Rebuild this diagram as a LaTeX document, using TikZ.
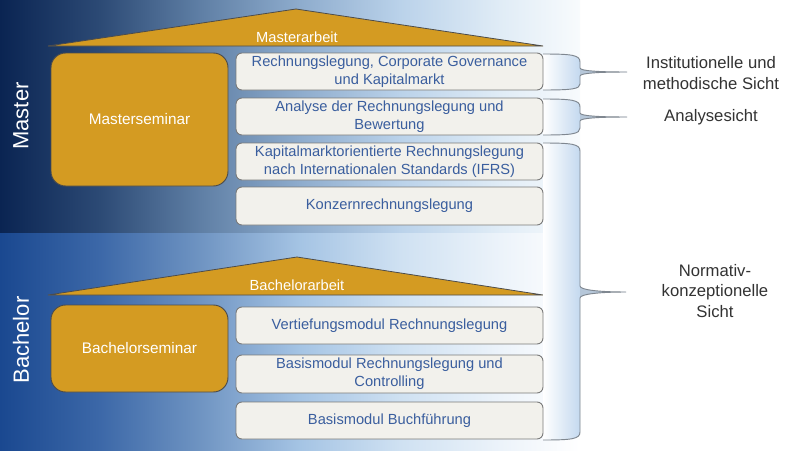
\documentclass[tikz,border=0pt]{standalone}
\usepackage{fontspec}
\setmainfont{Liberation Sans}
\definecolor{gold}{HTML}{D49B22}
\definecolor{boxfill}{HTML}{F2F1EC}
\definecolor{boxline}{HTML}{7A7A7A}
\definecolor{textblue}{HTML}{3A5E9E}
\definecolor{labeltext}{HTML}{333333}
\definecolor{bracefill}{HTML}{C4D9EF}
\definecolor{braceline}{HTML}{7F8790}
\definecolor{mA}{HTML}{0A2452}\definecolor{mB}{HTML}{2C4A75}\definecolor{mC}{HTML}{5F7FA5}
\definecolor{mD}{HTML}{8EACCD}\definecolor{mE}{HTML}{BAD2EA}\definecolor{mF}{HTML}{E0ECF6}\definecolor{mG}{HTML}{F8FBFD}
\definecolor{bA}{HTML}{1A4890}\definecolor{bB}{HTML}{3C68A8}\definecolor{bC}{HTML}{6F94C2}
\definecolor{bD}{HTML}{A5C4E4}\definecolor{bE}{HTML}{CFE1F2}\definecolor{bF}{HTML}{ECF3FA}\definecolor{bG}{HTML}{FFFFFF}
\pgfdeclarehorizontalshading{mastershade}{100bp}{color(0bp)=(mA); color(25bp)=(mA); color(33.62bp)=(mB); color(42.24bp)=(mC); color(50.86bp)=(mD); color(59.48bp)=(mE); color(68.1bp)=(mF); color(75bp)=(mG); color(100bp)=(mG)}
\pgfdeclarehorizontalshading{bachshade}{100bp}{color(0bp)=(bA); color(25bp)=(bA); color(33.62bp)=(bB); color(42.24bp)=(bC); color(50.86bp)=(bD); color(59.48bp)=(bE); color(68.1bp)=(bF); color(75bp)=(bG); color(100bp)=(bG)}
\tikzset{
  modbox/.style={draw=boxline, fill=boxfill, line width=0.7pt, rounded corners=4.5pt,
    minimum width=230.25pt, minimum height=27.75pt, inner sep=0pt, align=center,
    text=textblue, font=\fontsize{11}{13.5}\selectfont},
  seminar/.style={draw=black!70, fill=gold, line width=0.7pt, rounded corners=11pt,
    minimum width=132.75pt, inner sep=0pt, text=white, font=\fontsize{11.5}{14}\selectfont},
  roof/.style={draw=black!70, fill=gold, line width=0.6pt},
  rooflabel/.style={text=white, font=\fontsize{11}{13}\selectfont, inner sep=0pt},
  levellabel/.style={text=white, rotate=90, font=\fontsize{16.5}{19}\selectfont, inner sep=0pt},
  sidelabel/.style={text=labeltext, align=center, font=\fontsize{12.5}{15.5}\selectfont, inner sep=0pt},
  bracefillst/.style={left color=white, right color=bracefill, draw=none},
  bracest/.style={draw=braceline, line width=0.7pt},
}
\begin{document}
\begin{tikzpicture}[x=0.75pt,y=-0.75pt]
\useasboundingbox (0,0) rectangle (800,450);
\fill[white] (0,0) rectangle (800,450);
\shade[shading=mastershade] (0,0) rectangle (580,233);
\shade[shading=bachshade] (0,233) rectangle (580,450);

% level labels
\node[levellabel] (master) at (21,116) {Master};
\node[levellabel] (bachelor) at (21,340) {Bachelor};

% roofs
\draw[roof] (48,46) -- (296,9) -- (543,46) -- cycle;
\node[rooflabel] (ma) at (297,37) {Masterarbeit};
\draw[roof] (48,295) -- (297,257) -- (543,295) -- cycle;
\node[rooflabel] (ba) at (297,285) {Bachelorarbeit};

% seminars
\node[seminar, minimum height=99.75pt] (ms) at (139.5,119.5) {Masterseminar};
\node[seminar, minimum height=65.25pt] (bs) at (139.5,348.5) {Bachelorseminar};

% braces (fills)
\path[bracefillst] (543,54) .. controls (572,54) and (580,55) .. (580,62) -- (580,84) .. controls (580,89) and (572,90) .. (543,90) -- cycle;
\path[bracefillst] (543,99) .. controls (572,99) and (580,100) .. (580,107) -- (580,128) .. controls (580,134) and (572,135) .. (543,135) -- cycle;
\path[bracefillst] (543,143) .. controls (572,143) and (580,144) .. (580,151) -- (580,432) .. controls (580,439) and (572,440) .. (543,440) -- cycle;

% module boxes
\node[modbox] (m1) at (389.5,71.5) {Rechnungslegung, Corporate Governance\\und Kapitalmarkt};
\node[modbox] (m2) at (389.5,116.5) {Analyse der Rechnungslegung und\\Bewertung};
\node[modbox] (m3) at (389.5,161.5) {Kapitalmarktorientierte Rechnungslegung\\nach Internationalen Standards (IFRS)};
\node[modbox, minimum height=28.5pt] (m4) at (389.5,206) {Konzernrechnungslegung};
\node[modbox] (b1) at (389.5,325.5) {Vertiefungsmodul Rechnungslegung};
\node[modbox, minimum height=28.5pt] (b2) at (389.5,374) {Basismodul Rechnungslegung und\\Controlling};
\node[modbox] (b3) at (389.5,420.5) {Basismodul Buchführung};

% side labels
\node[sidelabel] (s1) at (711,73) {Institutionelle und\\methodische Sicht};
\node[sidelabel] (s2) at (711,117) {Analysesicht};
\node[sidelabel] (s3) at (715,291) {Normativ-\\konzeptionelle\\Sicht};

\coordinate (t1) at (627,72);
\coordinate (t2) at (627,117);
\coordinate (t3) at (626,292);

% brace tips (fill) and outlines
\fill[bracefill!80!gray] (580,68) .. controls (580,71) and (600,72) .. (t1) .. controls (600,72) and (580,73) .. (580,76) -- cycle;
\draw[bracest] (543,54) .. controls (572,54) and (580,55) .. (580,62) -- (580,68) .. controls (580,71) and (600,72) .. (t1)
  .. controls (600,72) and (580,73) .. (580,76) -- (580,84) .. controls (580,89) and (572,90) .. (543,90);
\fill[bracefill!80!gray] (580,113) .. controls (580,116) and (600,117) .. (t2) .. controls (600,117) and (580,118) .. (580,121) -- cycle;
\draw[bracest] (543,99) .. controls (572,99) and (580,100) .. (580,107) -- (580,113) .. controls (580,116) and (600,117) .. (t2)
  .. controls (600,117) and (580,118) .. (580,121) -- (580,128) .. controls (580,134) and (572,135) .. (543,135);
\fill[bracefill!80!gray] (580,286) .. controls (580,290) and (600,292) .. (t3) .. controls (600,292) and (580,294) .. (580,298) -- cycle;
\draw[bracest] (543,143) .. controls (572,143) and (580,144) .. (580,151) -- (580,286) .. controls (580,290) and (600,292) .. (t3)
  .. controls (600,292) and (580,294) .. (580,298) -- (580,432) .. controls (580,439) and (572,440) .. (543,440);
\end{tikzpicture}
\end{document}
